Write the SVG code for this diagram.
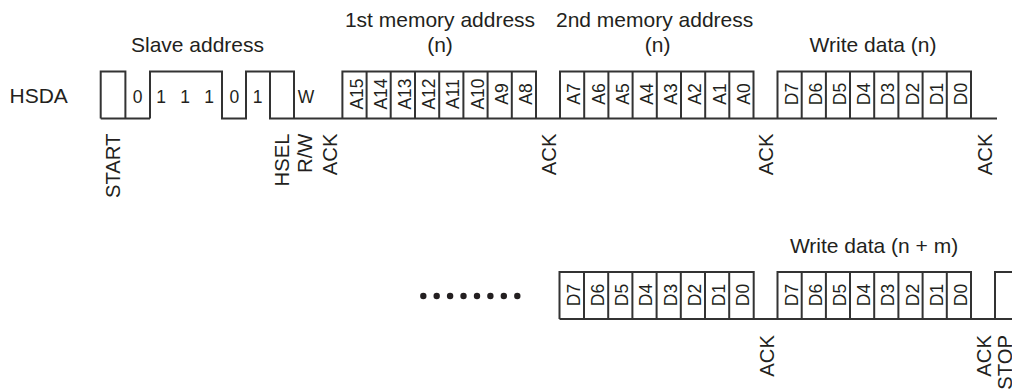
<svg xmlns="http://www.w3.org/2000/svg" width="1012" height="389" viewBox="0 0 1012 389">
<style>
text{font-family:"Liberation Sans",Arial,sans-serif;fill:#231f20}
.l{font-size:21px}
.r{font-size:20.3px;text-anchor:end}
.c{font-size:17.5px;text-anchor:middle}
.m{text-anchor:middle}
.w{fill:none;stroke:#333;stroke-width:2}
</style>
<rect width="1012" height="389" fill="#fff"/>
<g id="connectors">
<path class="w" d="M100.7 118.5V71.5H125.4V118.5M100.7 118.5H150M150 118.5V71.5H222V118.5H246V71.5H294V118.5M270 71.5V118.5H997M342.4 118.5V71.5H536V118.5M560 118.5V71.5H753.5V118.5M777.5 118.5V71.5H971V118.5"/>
<path class="w" d="M366.6 71.5V118.5M390.7 71.5V118.5M415 71.5V118.5M439.2 71.5V118.5M463.4 71.5V118.5M487.6 71.5V118.5M511.8 71.5V118.5M584.2 71.5V118.5M608.4 71.5V118.5M632.6 71.5V118.5M656.8 71.5V118.5M681 71.5V118.5M705.2 71.5V118.5M729.3 71.5V118.5M801.7 71.5V118.5M825.9 71.5V118.5M850 71.5V118.5M874.2 71.5V118.5M898.4 71.5V118.5M922.6 71.5V118.5M946.8 71.5V118.5"/>
<path class="w" d="M559.5 319V272H753.7V319M777.5 319V272H971V319M995 319V272H1012M559.5 319H1012"/>
<path class="w" d="M584 272V319M608.2 272V319M632.4 272V319M656.6 272V319M680.8 272V319M705 272V319M729.2 272V319M801.7 272V319M825.9 272V319M850 272V319M874.2 272V319M898.4 272V319M922.6 272V319M946.8 272V319"/>
</g>
<g id="dots" fill="#231f20">
<circle cx="423.3" cy="296" r="3.2"/><circle cx="436.7" cy="296" r="3.2"/><circle cx="450.1" cy="296" r="3.2"/><circle cx="463.5" cy="296" r="3.2"/><circle cx="477" cy="296" r="3.2"/><circle cx="490.4" cy="296" r="3.2"/><circle cx="503.8" cy="296" r="3.2"/><circle cx="517.3" cy="296" r="3.2"/>
</g>
<g id="headings">
<text class="l" x="9.5" y="103">HSDA</text>
<text class="l m" x="197.5" y="52">Slave address</text>
<text class="l m" x="440" y="27">1st memory address</text>
<text class="l m" x="440" y="52">(n)</text>
<text class="l" x="556" y="27">2nd memory address</text>
<text class="l m" x="657.7" y="52">(n)</text>
<text class="l m" x="873" y="52">Write data (n)</text>
<text class="l m" x="874" y="252.5">Write data (n + m)</text>
</g>
<g id="bits">
<text class="c" x="137.5" y="103">0</text><text class="c" x="161" y="103">1</text><text class="c" x="185" y="103">1</text><text class="c" x="209" y="103">1</text><text class="c" x="234.3" y="103">0</text><text class="c" x="257.5" y="103">1</text><text class="c" x="306" y="103">W</text>
<text class="c" transform="translate(362.6 94) rotate(-90)">A15</text>
<text class="c" transform="translate(386.8 94) rotate(-90)">A14</text>
<text class="c" transform="translate(411 94) rotate(-90)">A13</text>
<text class="c" transform="translate(435.2 94) rotate(-90)">A12</text>
<text class="c" transform="translate(459.4 94) rotate(-90)">A11</text>
<text class="c" transform="translate(483.6 94) rotate(-90)">A10</text>
<text class="c" transform="translate(507.8 94) rotate(-90)">A9</text>
<text class="c" transform="translate(532 94) rotate(-90)">A8</text>
<text class="c" transform="translate(580.4 94) rotate(-90)">A7</text>
<text class="c" transform="translate(604.6 94) rotate(-90)">A6</text>
<text class="c" transform="translate(628.8 94) rotate(-90)">A5</text>
<text class="c" transform="translate(653 94) rotate(-90)">A4</text>
<text class="c" transform="translate(677.2 94) rotate(-90)">A3</text>
<text class="c" transform="translate(701.4 94) rotate(-90)">A2</text>
<text class="c" transform="translate(725.6 94) rotate(-90)">A1</text>
<text class="c" transform="translate(749.8 94) rotate(-90)">A0</text>
<text class="c" transform="translate(797.6 94) rotate(-90)">D7</text>
<text class="c" transform="translate(821.8 94) rotate(-90)">D6</text>
<text class="c" transform="translate(846 94) rotate(-90)">D5</text>
<text class="c" transform="translate(870.2 94) rotate(-90)">D4</text>
<text class="c" transform="translate(894.4 94) rotate(-90)">D3</text>
<text class="c" transform="translate(918.6 94) rotate(-90)">D2</text>
<text class="c" transform="translate(942.8 94) rotate(-90)">D1</text>
<text class="c" transform="translate(967 94) rotate(-90)">D0</text>
<text class="c" transform="translate(579.8 295) rotate(-90)">D7</text>
<text class="c" transform="translate(604 295) rotate(-90)">D6</text>
<text class="c" transform="translate(628.2 295) rotate(-90)">D5</text>
<text class="c" transform="translate(652.4 295) rotate(-90)">D4</text>
<text class="c" transform="translate(676.6 295) rotate(-90)">D3</text>
<text class="c" transform="translate(700.8 295) rotate(-90)">D2</text>
<text class="c" transform="translate(725 295) rotate(-90)">D1</text>
<text class="c" transform="translate(749.2 295) rotate(-90)">D0</text>
<text class="c" transform="translate(797.6 295) rotate(-90)">D7</text>
<text class="c" transform="translate(821.8 295) rotate(-90)">D6</text>
<text class="c" transform="translate(846 295) rotate(-90)">D5</text>
<text class="c" transform="translate(870.2 295) rotate(-90)">D4</text>
<text class="c" transform="translate(894.4 295) rotate(-90)">D3</text>
<text class="c" transform="translate(918.6 295) rotate(-90)">D2</text>
<text class="c" transform="translate(942.8 295) rotate(-90)">D1</text>
<text class="c" transform="translate(967 295) rotate(-90)">D0</text>
</g>
<g id="markers">
<text class="r" transform="translate(119.5 133.5) rotate(-90)">START</text>
<text class="r" transform="translate(289 133.5) rotate(-90)">HSEL</text>
<text class="r" transform="translate(312 133.5) rotate(-90)">R/W</text>
<text class="r" transform="translate(337 133.5) rotate(-90)">ACK</text>
<text class="r" transform="translate(556 133.5) rotate(-90)">ACK</text>
<text class="r" transform="translate(773 133.5) rotate(-90)">ACK</text>
<text class="r" transform="translate(992 133.5) rotate(-90)">ACK</text>
<text class="r" transform="translate(774 335) rotate(-90)">ACK</text>
<text class="r" transform="translate(990.5 335) rotate(-90)">ACK</text>
<text class="r" transform="translate(1012 335) rotate(-90)">STOP</text>
</g>
</svg>
